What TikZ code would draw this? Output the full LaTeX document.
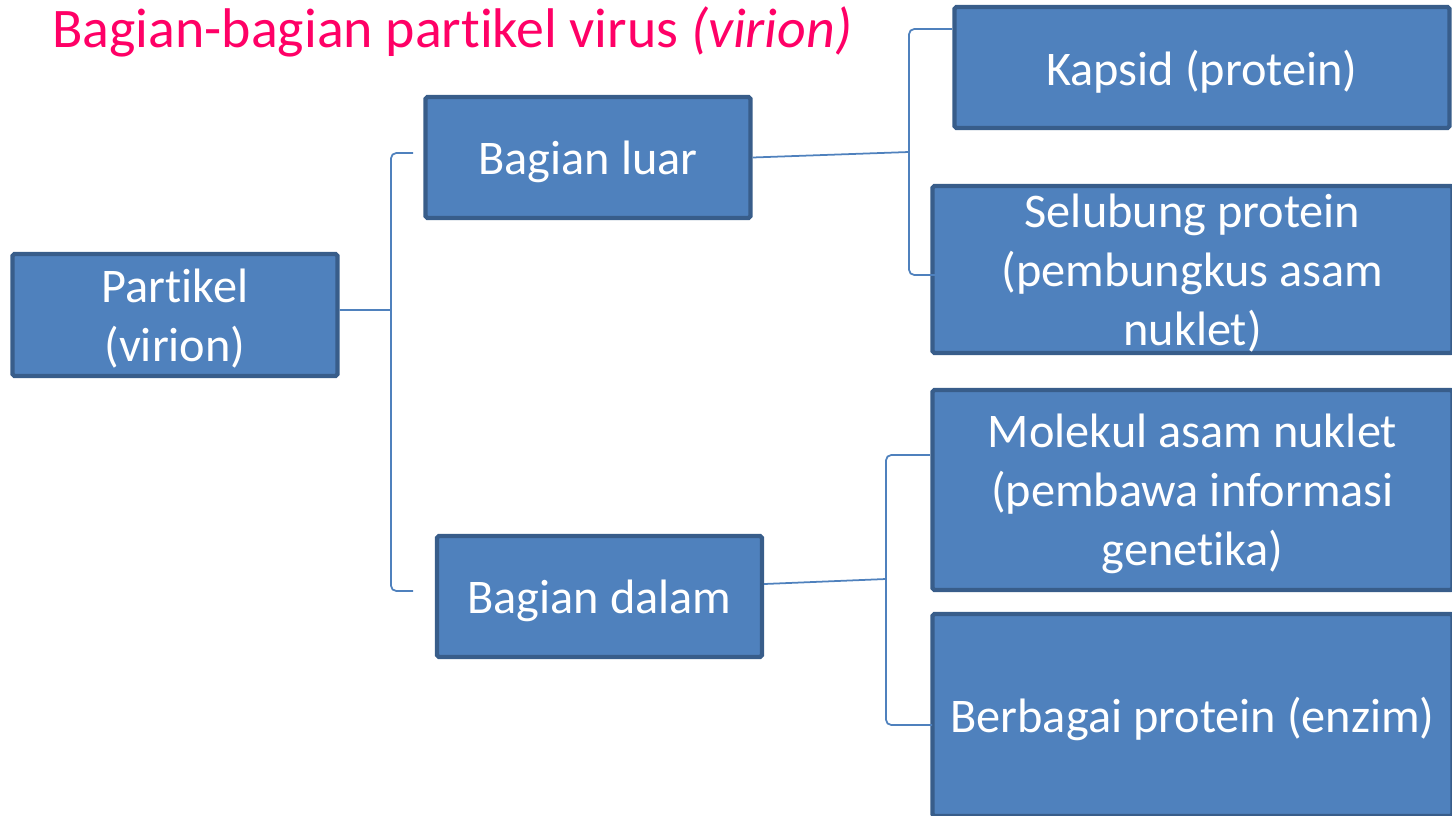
\documentclass[tikz,border=0pt]{standalone}
\usepackage{fontspec}
\setmainfont[Ligatures=NoCommon]{Carlito}
\usetikzlibrary{positioning, calc}
\definecolor{boxfill}{HTML}{4F81BD}
\definecolor{boxline}{HTML}{385D8A}
\definecolor{titlepink}{HTML}{FF0066}
\newcommand{\tinolig}{t\kern0pt i}

\begin{document}
\begin{tikzpicture}[
    x=0.02cm, y=-0.02cm,
    part/.style={rectangle, rounded corners=1pt, draw=boxline, fill=boxfill,
                 line width=2.4pt, inner sep=0pt, align=center, text=white,
                 text depth=0pt, font=\fontsize{27.5}{33.5}\selectfont},
    link/.style={draw=boxfill, line width=1pt, rounded corners=3pt},
]
    \useasboundingbox (0,0) rectangle (1452,815);

    % Title
    \node[anchor=base west, inner sep=0pt, text=titlepink, font=\fontsize{31.8}{38}\selectfont]
        (title) at (52,47) {Bagian-bagian par\tinolig kel virus \textit{(virion)}};

    % Left level
    \node[part, minimum width=6.5cm, minimum height=2.44cm] (partikel) at (175,315) {Par\tinolig kel\\(virion)};

    % Middle level
    \node[part, minimum width=6.5cm, minimum height=2.42cm] (luar) at (588,157.5) {Bagian luar};
    \node[part, minimum width=6.5cm, minimum height=2.42cm] (dalam) at (599.5,596.5) {Bagian dalam};

    % Right level
    \node[part, minimum width=9.9cm, minimum height=2.42cm] (kapsid) at (1202,67.5) {Kapsid (protein)};
    \node[part, minimum width=10.4cm, minimum height=3.34cm] (selubung) at (1192.5,269.5) {Selubung protein\\(pembungkus asam\\nuklet)};
    \node[part, minimum width=10.4cm, minimum height=4cm] (molekul) at (1192.5,490) {Molekul asam nuklet\\(pembawa informasi\\gene\tinolig ka)};
    \node[part, minimum width=10.4cm, minimum height=4.04cm] (enzim) at (1192.5,715) {Berbagai protein (enzim)};

    % Bracket points
    \coordinate (s1) at (391,310);
    \coordinate (t1) at (413,153);
    \coordinate (b1) at (413,591);
    \coordinate (s2) at (909,152);
    \coordinate (t2) at (952,29);
    \coordinate (b2) at (955,275);
    \coordinate (s3) at (886,579);
    \coordinate (t3) at (930,455);
    \coordinate (b3) at (932,725);

    % Brackets
    \draw[link] ([yshift=0.1cm]partikel.east) -- (s1);
    \draw[link] (t1) -| (s1) |- (b1);

    \draw[link] (luar.east) -- (s2);
    \draw[link] (t2) -| (s2) |- (b2);

    \draw[link] ([yshift=0.25cm]dalam.east) -- (s3);
    \draw[link] (t3) -| (s3) |- (b3);
\end{tikzpicture}
\end{document}
